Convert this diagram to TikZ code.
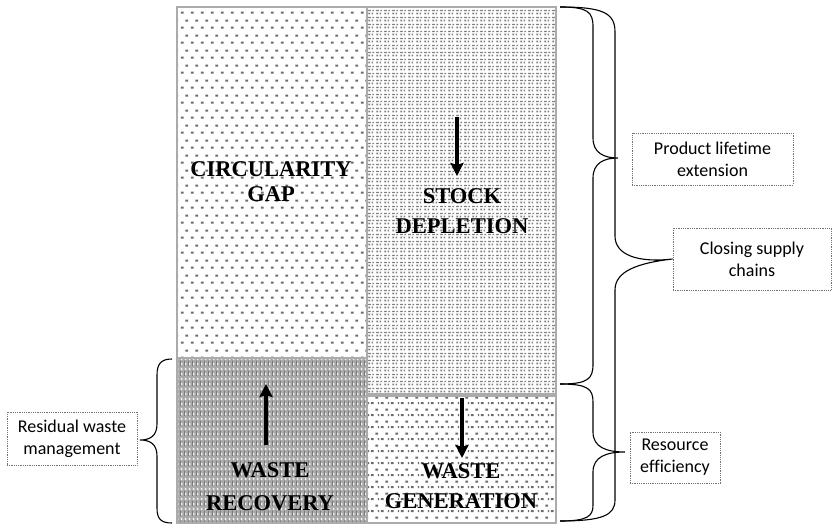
\documentclass[tikz,border=0pt]{standalone}
\usepackage{fontspec}
\setmainfont{Liberation Serif}
\newfontfamily\labfont[Ligatures=NoCommon]{Carlito}
\usetikzlibrary{patterns,arrows.meta}

\pgfdeclarepatternformonly{circdots}{\pgfqpoint{0pt}{0pt}}{\pgfqpoint{10pt}{15pt}}{\pgfqpoint{10pt}{15pt}}{%
  \pgfpathrectangle{\pgfqpoint{1pt}{2.5pt}}{\pgfqpoint{3pt}{2.2pt}}%
  \pgfpathrectangle{\pgfqpoint{6pt}{10pt}}{\pgfqpoint{3pt}{2.2pt}}%
  \pgfusepath{fill}}
\pgfdeclarepatternformonly{stockdots}{\pgfqpoint{0pt}{0pt}}{\pgfqpoint{8pt}{7pt}}{\pgfqpoint{8pt}{7pt}}{%
  \pgfpathrectangle{\pgfqpoint{0.5pt}{0.8pt}}{\pgfqpoint{1.8pt}{1.8pt}}%
  \pgfpathrectangle{\pgfqpoint{4pt}{0.8pt}}{\pgfqpoint{1.8pt}{1.8pt}}%
  \pgfpathrectangle{\pgfqpoint{0pt}{4.3pt}}{\pgfqpoint{3.2pt}{1.5pt}}%
  \pgfpathrectangle{\pgfqpoint{5pt}{4.3pt}}{\pgfqpoint{1.8pt}{1.5pt}}%
  \pgfusepath{fill}}
\pgfdeclarepatternformonly{recdots}{\pgfqpoint{0pt}{0pt}}{\pgfqpoint{4pt}{5pt}}{\pgfqpoint{4pt}{5pt}}{%
  \pgfpathrectangle{\pgfqpoint{1pt}{1pt}}{\pgfqpoint{1.8pt}{2.6pt}}%
  \pgfusepath{fill}}
\pgfdeclarepatternformonly{recstripes}{\pgfqpoint{0pt}{0pt}}{\pgfqpoint{4pt}{10pt}}{\pgfqpoint{4pt}{10pt}}{%
  \pgfpathrectangle{\pgfqpoint{0pt}{0pt}}{\pgfqpoint{1pt}{6pt}}%
  \pgfusepath{fill}}
\pgfdeclarepatternformonly{gendots}{\pgfqpoint{0pt}{0pt}}{\pgfqpoint{10pt}{12pt}}{\pgfqpoint{10pt}{12pt}}{%
  \pgfpathrectangle{\pgfqpoint{1pt}{2pt}}{\pgfqpoint{3pt}{2.2pt}}%
  \pgfpathrectangle{\pgfqpoint{6pt}{8pt}}{\pgfqpoint{3pt}{2.2pt}}%
  \pgfpathrectangle{\pgfqpoint{8.5pt}{2pt}}{\pgfqpoint{1.4pt}{2.2pt}}%
  \pgfusepath{fill}}

\tikzset{
  cellborder/.style={draw=black!33, line width=2pt},
  celltext/.style={inner sep=0pt, align=center, font=\bfseries\fontsize{22.5}{25}\selectfont},
  bigarrow/.style={line width=3.6pt, -{Stealth[length=13pt,width=13pt,inset=2pt]}},
  brace/.style={draw=black, line width=1.1pt},
  labelbox/.style={draw=black!55, densely dotted, line width=0.8pt, align=center,
    inner sep=0pt, font=\labfont\fontsize{18}{22}\selectfont},
}

\begin{document}
\begin{tikzpicture}[x=1pt,y=-1pt]
\useasboundingbox (0,0) rectangle (832,526);
\fill[white] (0,0) rectangle (832,526);

% cells
\path[pattern=circdots, pattern color=black!58] (177,7) rectangle (367,358);
\path[pattern=stockdots, pattern color=black!50] (367,7) rectangle (556,395);
\fill[black!34] (177,358) rectangle (367,523);
\path[pattern=recdots, pattern color=white!94!black] (177,358) rectangle (367,523);
\path[pattern=recstripes, pattern color=black!52] (177,358) rectangle (367,523);
\path[pattern=gendots, pattern color=black!58] (367,395) rectangle (556,523);

\draw[cellborder] (177,7) rectangle (556,523);
\draw[cellborder] (367,7) -- (367,523);
\draw[cellborder] (177,358) -- (367,358);
\draw[cellborder, line width=3.5pt] (367,395) -- (556,395);

% cell texts
\node[celltext] (gap) at (271,182) {CIRCULARITY\\GAP};
\node[celltext, font=\bfseries\fontsize{22.5}{30}\selectfont] (stock) at (462,211) {STOCK\\DEPLETION};
\node[celltext, font=\bfseries\fontsize{22.5}{33}\selectfont] (rec) at (270,487) {WASTE\\RECOVERY};
\node[celltext, font=\bfseries\fontsize{22.5}{30}\selectfont] (gen) at (461,486.5) {WASTE\\GENERATION};

% arrows
\coordinate (sa1) at (457,117); \coordinate (sa2) at (457,176);
\coordinate (ra1) at (266,445); \coordinate (ra2) at (266,384);
\coordinate (ga1) at (462,398); \coordinate (ga2) at (462,458);
\draw[bigarrow] (sa1) -- (sa2);
\draw[bigarrow] (ra1) -- (ra2);
\draw[bigarrow] (ga1) -- (ga2);

% label boxes
\node[labelbox, minimum width=161pt, minimum height=52pt] (ple) at (712.5,159) {Product lifetime\\extension};
\node[labelbox, minimum width=158pt, minimum height=62pt] (csc) at (752,259) {Closing supply\\chains};
\node[labelbox, minimum width=90pt, minimum height=51pt] (reff) at (675,457.5) {Resource\\efficiency};
\node[labelbox, minimum width=130pt, minimum height=53pt] (rwm) at (72,438.5) {Residual waste\\management};

% brace end points
\coordinate (t1) at (560,7);
\coordinate (m1) at (560,384);
\coordinate (e1) at (560,521);
\coordinate (lt) at (172,359);
\coordinate (lb) at (172,523);

% brace 1: product lifetime extension
\draw[brace] (t1) .. controls (588,7) and (593,12) .. (593,27) -- (593,138)
  .. controls (593,153) and (604,158) .. (618,158) coordinate (tip1)
  .. controls (604,158) and (593,163) .. (593,178) -- (593,364)
  .. controls (593,379) and (588,384) .. (m1);
% brace 2: closing supply chains
\draw[brace] (t1) .. controls (603,7) and (615,13) .. (615,32) -- (615,236)
  .. controls (615,255) and (638,263) .. (csc.west)
  .. controls (638,263) and (615,271) .. (615,290) -- (615,500)
  .. controls (615,515) and (603,521) .. (e1);
% brace 3: resource efficiency
\draw[brace] (m1) .. controls (588,384) and (593,389) .. (593,402) -- (593,432)
  .. controls (593,447) and (606,452) .. (625,452)
  .. controls (606,452) and (593,457) .. (593,472) -- (593,505)
  .. controls (593,516) and (588,521) .. (e1);
% left brace: residual waste management
\draw[brace] (lt) .. controls (161,359) and (157,364) .. (157,375) -- (157,424)
  .. controls (157,436) and (150,440) .. (140,440)
  .. controls (150,440) and (157,444) .. (157,456) -- (157,508)
  .. controls (157,519) and (161,523) .. (lb);
\end{tikzpicture}
\end{document}
